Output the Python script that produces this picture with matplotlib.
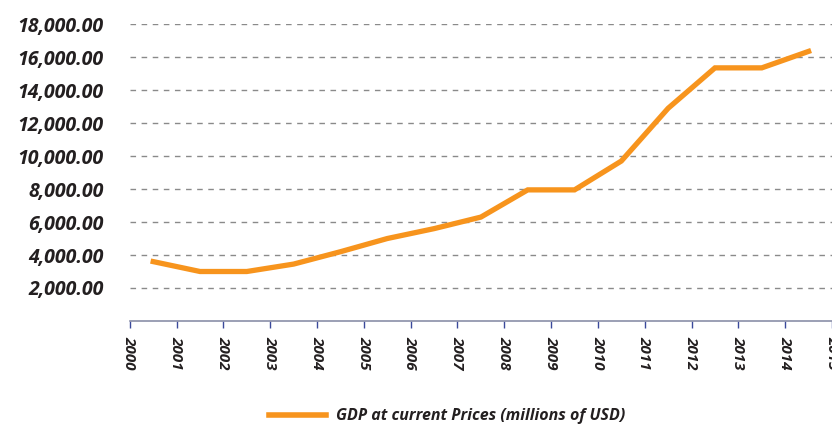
import matplotlib
matplotlib.use("Agg")
import matplotlib.pyplot as plt

# ==============================
# DATA
# ==============================
years = [2000, 2001, 2002, 2003, 2004, 2005, 2006, 2007,
         2008, 2009, 2010, 2011, 2012, 2013, 2014]
gdp = [3600, 3000, 3000, 3450, 4200, 5000, 5600, 6300,
       7950, 7950, 9700, 12900, 15350, 15350, 16350]
tick_years = list(range(2000, 2016))
y_ticks = [2000, 4000, 6000, 8000, 10000, 12000, 14000, 16000, 18000]
series_name = "GDP at current Prices (millions of USD)"

# ==============================
# STYLE
# ==============================
plt.rcParams['font.family'] = ['Open Sans', 'DejaVu Sans']
orange = '#F7941D'
text_col = '#231f20'

fig = plt.figure(figsize=(8.32, 4.24), dpi=100)
ax = fig.add_axes([0.156, 0.243, 0.844, 0.700])

# points sit between the year tick marks
x_mid = [y + 0.5 for y in years]
ax.plot(x_mid, gdp, color=orange, linewidth=3.8, solid_joinstyle='miter',
        label=series_name, clip_on=False)

ax.set_xlim(2000, 2015)
ax.set_ylim(0, 18000)

ax.set_yticks(y_ticks)
ax.set_yticklabels([f"{v:,.2f}" for v in y_ticks], fontsize=14,
                   fontweight='bold', fontstyle='italic', color=text_col)
ax.tick_params(axis='y', length=0, pad=19)
ax.yaxis.grid(True, linestyle=(0, (4, 4)), color='#8a8a8a', linewidth=1)
ax.set_axisbelow(True)

ax.set_xticks(tick_years)
ax.set_xticklabels([str(y) for y in tick_years], rotation=-90,
                   fontsize=11, fontweight='bold', fontstyle='italic',
                   color=text_col, va='top', ha='center')
ax.tick_params(axis='x', length=5, width=1, color='#3b4a9b', pad=6)

for side in ['top', 'right', 'left']:
    ax.spines[side].set_visible(False)
ax.spines['bottom'].set_color('#8a8fa8')
ax.spines['bottom'].set_linewidth(1.2)

leg = fig.legend(loc='center', bbox_to_anchor=(0.537, 0.018), frameon=False,
                 handlelength=3.6, handletextpad=0.6,
                 prop={'size': 11.5, 'weight': 'bold', 'style': 'italic'})
leg.get_texts()[0].set_color(text_col)
for line in leg.get_lines():
    line.set_linewidth(4)

fig.savefig("out.png", dpi=100)
